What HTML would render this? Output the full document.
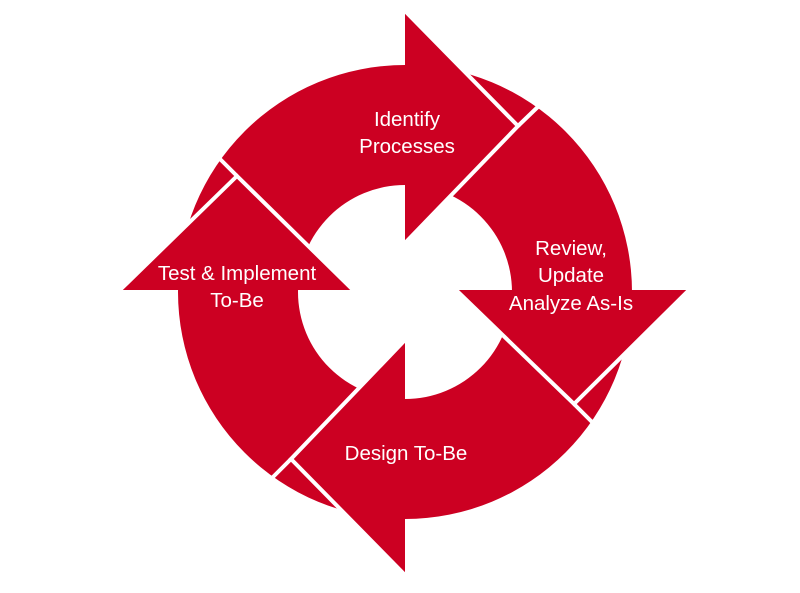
<!DOCTYPE html>
<html><head><meta charset="utf-8"><style>
html,body{margin:0;padding:0;background:#fff;}
svg{display:block;}
text{font-family:"Liberation Sans",sans-serif;font-size:20.5px;fill:#fff;text-anchor:middle;}
</style></head><body>
<svg width="800" height="593" viewBox="0 0 800 593">
<g fill="#cc0022">
<path d="M178,292 A227,227 0 0 1 405,65 L405,185 A107,107 0 0 0 298,292 Z"/>
<path d="M405,65 A227,227 0 0 1 632,292 L512,292 A107,107 0 0 0 405,185 Z"/>
<path d="M632,292 A227,227 0 0 1 405,519 L405,399 A107,107 0 0 0 512,292 Z"/>
<path d="M405,519 A227,227 0 0 1 178,292 L298,292 A107,107 0 0 0 405,399 Z"/>
</g>
<g fill="#cc0022" stroke="none">
<polygon points="405,11 518,126 405,243"/>
<polygon points="456,290 689,290 574,404"/>
<polygon points="405,340 405,575 291,459"/>
<polygon points="120,290 353,290 237,176"/>
</g>
<g fill="none" stroke="#fff" stroke-width="4" stroke-linejoin="miter">
<polyline points="405,11 518,126 405,243"/>
<polyline points="456,290 574,404 689,290"/>
<polyline points="405,340 291,459 405,575"/>
<polyline points="120,290 237,176 353,290"/>
<line x1="518" y1="126" x2="545" y2="100"/>
<line x1="574" y1="404" x2="600" y2="430"/>
<line x1="291" y1="459" x2="265" y2="485"/>
<line x1="237" y1="176" x2="211" y2="150"/>
</g>
<text x="407" y="126">Identify</text>
<text x="407" y="153">Processes</text>
<text x="571" y="255">Review,</text>
<text x="571" y="282">Update</text>
<text x="571" y="310">Analyze As-Is</text>
<text x="237" y="280">Test &amp; Implement</text>
<text x="237" y="307">To-Be</text>
<text x="406" y="460">Design To-Be</text>
</svg>
</body></html>
